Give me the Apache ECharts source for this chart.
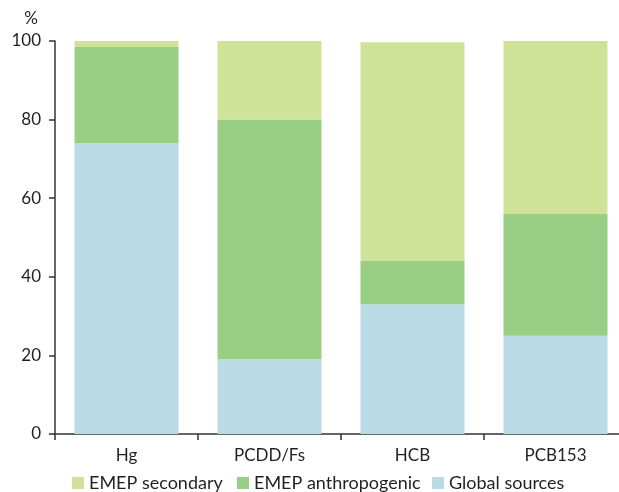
<!DOCTYPE html>
<html>
<head>
<meta charset="utf-8">
<script src="https://cdn.jsdelivr.net/npm/echarts@6/dist/echarts.min.js"></script>
<style>
  html, body { margin: 0; padding: 0; background: #fff; overflow: hidden; }
  #main { width: 627px; height: 492px; }
</style>
</head>
<body>
<div id="main"></div>
<script type="text/javascript">
    // categories and shares (%)
    var categories = ['Hg', 'PCDD/Fs', 'HCB', 'PCB153'];
    var globalSources = [74, 19, 33, 25];
    var emepAnthropogenic = [24.5, 61, 11, 31];
    var emepSecondary = [1.5, 20, 55.7, 44];
    var yTicks = [0, 20, 40, 60, 80, 100];
    var legendNames = ['EMEP secondary', 'EMEP anthropogenic', 'Global sources'];
    var legendLeft = [72, 237, 432];

    var textColor = '#231f20';
    var font = 'Lato';

    var myChart = echarts.init(document.getElementById('main'));

    // one legend per item so each sits where the original has it
    var legends = legendNames.map(function(name, i){
        return {
            left: legendLeft[i],
            top: 474,
            padding: 0,
            itemWidth: 12,
            itemHeight: 12,
            itemGap: 0,
            icon: 'rect',
            textStyle: { fontSize: 18, color: textColor, fontFamily: font, padding: [0, 0, 0, 0] },
            data: [name]
        };
    });

    var option = {
        animation: false,
        textStyle: { fontFamily: font, color: textColor },
        grid: { left: 55, top: 41, right: 0, height: 393 },
        legend: legends,
        xAxis: {
            type: 'category',
            data: categories,
            axisLine: { lineStyle: { color: '#333', width: 1.5 } },
            axisTick: { show: true, length: 6, lineStyle: { color: '#333', width: 1.5 } },
            axisLabel: { fontSize: 17, color: textColor, margin: 13 }
        },
        yAxis: {
            type: 'value',
            min: yTicks[0],
            max: yTicks[yTicks.length - 1],
            interval: 20,
            name: '%',
            nameLocation: 'end',
            nameGap: 14,
            nameTextStyle: { fontSize: 17, color: textColor, align: 'right', padding: [0, 17, 0, 0] },
            splitLine: { show: false },
            axisLine: { show: true, lineStyle: { color: '#333', width: 1.5 } },
            axisTick: { show: true, length: 6, lineStyle: { color: '#333', width: 1.5 } },
            axisLabel: { fontSize: 17, color: textColor, margin: 14 }
        },
        series: [
            {
                name: 'Global sources',
                type: 'bar',
                stack: 'total',
                barWidth: 104,
                itemStyle: { color: '#badae6' },
                data: globalSources
            },
            {
                name: 'EMEP anthropogenic',
                type: 'bar',
                stack: 'total',
                barWidth: 104,
                itemStyle: { color: '#99cf85' },
                data: emepAnthropogenic
            },
            {
                name: 'EMEP secondary',
                type: 'bar',
                stack: 'total',
                barWidth: 104,
                itemStyle: { color: '#cfe398' },
                data: emepSecondary
            }
        ]
    };

    myChart.setOption(option);
</script>
</body>
</html>
